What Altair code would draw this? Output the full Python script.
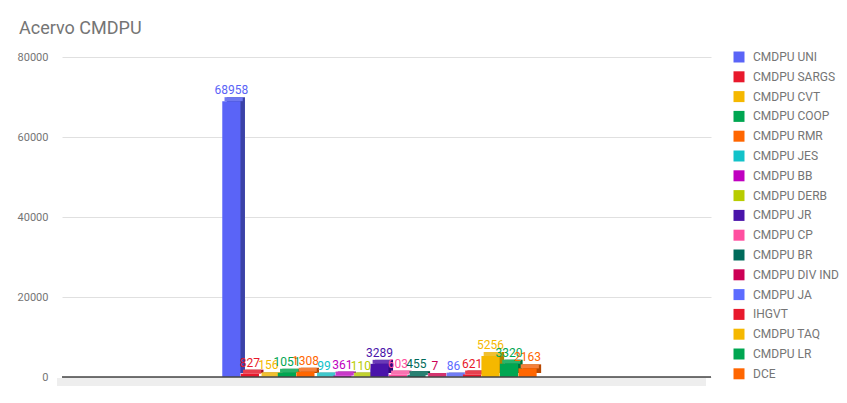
import altair as alt
import pandas as pd

series = ["CMDPU UNI", "CMDPU SARGS", "CMDPU CVT", "CMDPU COOP", "CMDPU RMR",
          "CMDPU JES", "CMDPU BB", "CMDPU DERB", "CMDPU JR", "CMDPU CP",
          "CMDPU BR", "CMDPU DIV IND", "CMDPU JA", "IHGVT", "CMDPU TAQ",
          "CMDPU LR", "DCE"]
values = [68958, 827, 156, 1051, 1308, 99, 361, 110, 3289, 603, 455, 7, 86, 621, 5256, 3320, 2163]
colors = ["#5a64f7", "#e8192c", "#f5b800", "#00a651", "#ff6600", "#12c2c9", "#c000c0",
          "#b8cc00", "#4a14aa", "#ff4fa0", "#006b5b", "#cc0055", "#5c6cff", "#e8192c",
          "#f5b800", "#00a651", "#ff6600"]
side = ["#3a42a8", "#a01020", "#b08400", "#007238", "#b84800", "#0c8a90", "#860086",
        "#809000", "#32087a", "#c03878", "#004a3e", "#8c003a", "#3e48b0", "#a01020",
        "#b08400", "#007238", "#b84800"]
top = ["#6f78f0", "#e8404f", "#f0c030", "#2ab46a", "#f5803a", "#40c8cc", "#c83ac8",
       "#c2d230", "#6a3ab8", "#f872b0", "#2a8072", "#d4336e", "#717cf5", "#e8404f",
       "#f0c030", "#2ab46a", "#f5803a"]
y_ticks = [0, 20000, 40000, 60000, 80000]

df = pd.DataFrame({"series": series, "value": values, "side": side, "top": top,
                   "pos": list(range(len(series)))})

W, H = 649, 320
STEP = 18.8
BW = STEP - 0.6
xscale = alt.Scale(domain=[-8.88, W / STEP - 8.88], nice=False, zero=False)
yscale = alt.Scale(domain=[0, 80000], nice=False)
cscale = alt.Scale(domain=series, range=colors)
X = alt.X("pos:Q", scale=xscale, axis=None)
Y = alt.Y("value:Q", scale=yscale)

base = alt.Chart(df)

floor = base.mark_rect(color="#eeeeee").encode(
    x=alt.value(-5), x2=alt.value(W - 5), y=alt.value(H + 1), y2=alt.value(H + 9)
).transform_filter(alt.datum.pos == 0)

side_face = base.mark_bar(xOffset=4.5, yOffset=-4, width=BW, opacity=1).encode(
    x=X, y=Y, fill=alt.Fill("side:N", scale=None),
)

top_face = base.mark_tick(orient="horizontal", thickness=4, size=BW, opacity=1,
                          xOffset=2.25, yOffset=-2).encode(
    x=X, y=Y, fill=alt.Fill("top:N", scale=None),
)

front = base.mark_bar(width=BW, opacity=1).encode(
    x=X,
    y=alt.Y("value:Q", scale=yscale, title=None,
            axis=alt.Axis(values=y_ticks, format="d", ticks=False, domain=False,
                          labelColor="#757575", labelFontSize=11, labelFont="Roboto",
                          labelPadding=14, gridColor="#e0e0e0", minExtent=49, maxExtent=49)),
    color=alt.Color("series:N", sort=series, scale=cscale, title=None,
                    legend=alt.Legend(orient="none", legendX=671, legendY=-6,
                                      symbolType="square", symbolSize=121,
                                      symbolStrokeWidth=0, symbolOpacity=1,
                                      labelFontSize=12, labelFont="Roboto",
                                      labelColor="#757575", labelOffset=8,
                                      rowPadding=7.8, padding=0, labelLimit=200)),
)

baseline = alt.Chart(pd.DataFrame({"zero": [0]})).mark_rule(
    color="#444444", strokeWidth=1.3
).encode(y=alt.Y("zero:Q", scale=yscale))

labels = base.mark_text(dy=-11, fontSize=12, font="Roboto").encode(
    x=X, y=Y,
    text=alt.Text("value:Q", format="d"),
    color=alt.Color("series:N", sort=series, scale=cscale),
)

chart = alt.layer(floor, side_face, top_face, front, baseline, labels).properties(
    width=W, height=H,
    background="white",
    title=alt.TitleParams("Acervo CMDPU", anchor="start", frame="bounds",
                          fontSize=18, font="Roboto", fontWeight="normal",
                          color="#757575", dx=6, offset=13),
    padding={"left": 5, "top": 12, "right": 0, "bottom": 0},
).configure_view(strokeWidth=0, stroke="transparent")

chart.save("out.html", embed_options={"renderer": "svg", "actions": False})
